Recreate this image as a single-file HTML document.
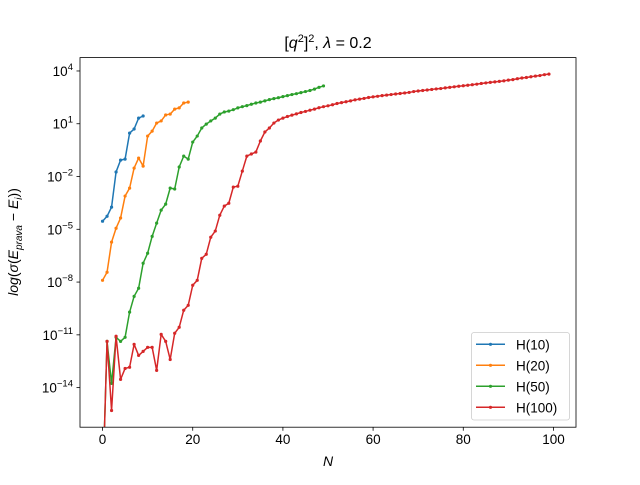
<!DOCTYPE html>
<html><head><meta charset="utf-8"><style>
body{margin:0;background:#fff}
svg{font-family:"Liberation Sans","DejaVu Sans",sans-serif}
</style></head><body>
<svg id="chart" width="640" height="480" xmlns="http://www.w3.org/2000/svg">
<rect width="640" height="480" fill="#fff"/>
<defs><clipPath id="clip"><rect x="80" y="57.6" width="496" height="369.6"/></clipPath></defs>
<g id="plot" clip-path="url(#clip)"></g>
<rect x="80" y="57.6" width="496" height="369.6" fill="none" stroke="#000" stroke-width="0.8"/>
<g id="xticks"></g>
<g id="yticks"></g>
<text x="328" y="48" text-anchor="middle" font-size="16">[<tspan font-style="italic">q</tspan><tspan font-size="11" dy="-6">2</tspan><tspan dy="6">]</tspan><tspan font-size="11" dy="-6">2</tspan><tspan dy="6">, </tspan><tspan font-style="italic">λ</tspan> = 0.2</text>
<text x="328" y="466" text-anchor="middle" font-size="14" font-style="italic">N</text>
<text transform="translate(18,242) rotate(-90)" text-anchor="middle" font-size="14"><tspan font-style="italic">log</tspan>(<tspan font-style="italic">σ</tspan>(<tspan font-style="italic">E</tspan><tspan font-size="10" font-style="italic" dy="4">prava</tspan><tspan dy="-4"> − </tspan><tspan font-style="italic">E</tspan><tspan font-size="10" font-style="italic" dy="4">i</tspan><tspan dy="-4">))</tspan></text>
<g id="legend"></g>
</svg>
<script>
const xTicks=[0,20,40,60,80,100];
const yTicks=[4,1,-2,-5,-8,-11,-14];
const seriesNames=["H(10)","H(20)","H(50)","H(100)"];
const seriesColors=["#1f77b4","#ff7f0e","#2ca02c","#d62728"];
const h10=[-4.54,-4.26,-3.74,-1.74,-1.07,-1.01,0.47,0.70,1.32,1.44];
const h20=[-7.90,-7.44,-5.73,-4.94,-4.36,-3.11,-2.66,-1.52,-0.95,-1.41,0.30,0.58,1.04,1.16,1.50,1.55,1.83,1.90,2.18,2.23];
const h50=[-20,-11.37,-13.76,-11.14,-11.37,-11.14,-9.71,-8.81,-8.35,-6.93,-6.36,-5.40,-4.65,-3.91,-3.57,-2.66,-2.71,-1.46,-0.84,-1.01,-0.04,0.30,0.76,0.98,1.16,1.32,1.55,1.67,1.72,1.80,1.90,1.97,2.03,2.11,2.18,2.23,2.30,2.37,2.43,2.48,2.54,2.60,2.66,2.71,2.77,2.83,2.89,2.97,3.07,3.15];
const h100=[-20,-11.37,-15.30,-11.08,-13.53,-12.91,-12.84,-11.54,-12.17,-11.94,-11.71,-11.71,-13.02,-10.97,-11.37,-12.40,-10.91,-10.57,-9.60,-9.32,-8.18,-7.90,-6.65,-6.42,-5.45,-5.10,-4.20,-3.68,-3.52,-2.60,-2.55,-1.69,-0.84,-0.72,-0.61,0.02,0.53,0.76,1.04,1.21,1.32,1.41,1.49,1.56,1.64,1.70,1.77,1.83,1.91,1.97,2.02,
2.08,2.15,2.20,2.25,2.30,2.36,2.40,2.44,2.49,2.53,2.56,2.60,2.63,2.66,2.69,2.72,2.75,2.78,2.83,2.86,2.89,2.92,2.95,2.98,3.00,3.04,3.07,3.10,3.13,3.16,3.19,3.22,3.25,3.29,3.32,3.35,3.38,3.41,3.44,3.48,3.51,3.56,3.60,3.63,3.67,3.71,3.74,3.79,3.82];
const allSeries=[h10,h20,h50,h100];

const NS="http://www.w3.org/2000/svg";
const L=80,R=576,T=57.6,B=427.2;
const xMin=-5,xMax=105,yMin=-16.25,yMax=4.76;
function sx(v){return L+(v-xMin)/(xMax-xMin)*(R-L);}
function sy(v){return B-(v-yMin)/(yMax-yMin)*(B-T);}
function mk(tag,attrs,parent){const e=document.createElementNS(NS,tag);for(const k in attrs)e.setAttribute(k,attrs[k]);parent.appendChild(e);return e;}

const xg=document.getElementById('xticks');
xTicks.forEach(t=>{
  const x=sx(t);
  const ln=mk('line',{x1:x,x2:x,y1:B,y2:B+3.5,stroke:'#000','stroke-width':0.8},xg);
  
  
  const tx=mk('text',{x:x,y:B+17,'text-anchor':'middle','font-size':13.5},xg);
  tx.textContent=t;
  
  
});
const yg=document.getElementById('yticks');
yTicks.forEach(t=>{
  const y=sy(t);
  const ln=mk('line',{x1:L-3.5,x2:L,y1:y,y2:y,stroke:'#000','stroke-width':0.8},yg);
  
  
  const tx=mk('text',{x:L-7,y:y+5,'text-anchor':'end','font-size':13.5},yg);
  
  
  const b=mk('tspan',{},tx);b.textContent='10';
  const e=mk('tspan',{'font-size':9.5,dy:-6},tx);e.textContent=(t<0?'−'+(-t):String(t));
});

const pg=document.getElementById('plot');
allSeries.forEach((s,i)=>{
  const g=mk('g',{},pg);
  
  
  const pts=s.map((v,n)=>sx(n).toFixed(2)+','+sy(v).toFixed(2)).join(' ');
  const pl=mk('polyline',{points:pts,fill:'none',stroke:seriesColors[i],'stroke-width':1.5,'stroke-linejoin':'round'},g);
  
  
  s.forEach((v,n)=>{
    const c=mk('circle',{cx:sx(n),cy:sy(v),r:1.6,fill:seriesColors[i]},g);
    
    
  });
});

const lg=document.getElementById('legend');
const box=mk('rect',{x:471.5,y:332.5,width:98,height:87.5,rx:2.5,fill:'#fff','fill-opacity':0.8,stroke:'#ccc','stroke-width':0.8},lg);


seriesNames.forEach((nm,i)=>{
  const y=344.3+i*21;
  const g=mk('g',{},lg);
  
  
  mk('line',{x1:476,x2:505,y1:y,y2:y,stroke:seriesColors[i],'stroke-width':1.5},g);
  mk('circle',{cx:490.5,cy:y,r:1.6,fill:seriesColors[i]},g);
  const t=mk('text',{x:516,y:y+5,'font-size':13.5,fill:'#000'},g);
  t.textContent=nm;
});
</script>
</body></html>
